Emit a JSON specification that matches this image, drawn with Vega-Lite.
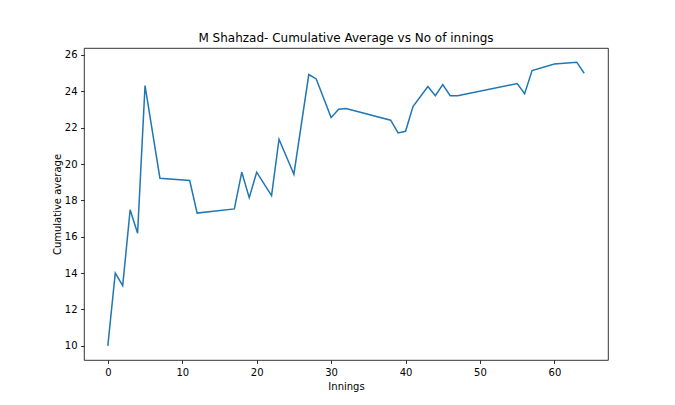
{
  "$schema": "https://vega.github.io/schema/vega-lite/v6.json",
  "autosize": "none",
  "width": 524,
  "height": 312,
  "padding": {"left": 84, "top": 48, "right": 67, "bottom": 45},
  "background": "white",
  "title": {"text": "M Shahzad- Cumulative Average vs No of innings", "fontSize": 12, "fontWeight": "normal", "font": "DejaVu Sans", "color": "black", "offset": 3},
  "data": {"values": [
    {"innings": 0, "avg": 10.0},
    {"innings": 1, "avg": 14.0},
    {"innings": 2, "avg": 13.31},
    {"innings": 3, "avg": 17.48},
    {"innings": 4, "avg": 16.19},
    {"innings": 5, "avg": 24.31},
    {"innings": 7, "avg": 19.22},
    {"innings": 11, "avg": 19.09},
    {"innings": 12, "avg": 17.3},
    {"innings": 17, "avg": 17.53},
    {"innings": 18, "avg": 19.55},
    {"innings": 19, "avg": 18.15},
    {"innings": 20, "avg": 19.55},
    {"innings": 22, "avg": 18.26},
    {"innings": 23, "avg": 21.36},
    {"innings": 25, "avg": 19.44},
    {"innings": 27, "avg": 24.92},
    {"innings": 28, "avg": 24.68},
    {"innings": 30, "avg": 22.55},
    {"innings": 31, "avg": 23.01},
    {"innings": 32, "avg": 23.05},
    {"innings": 38, "avg": 22.41},
    {"innings": 39, "avg": 21.71},
    {"innings": 40, "avg": 21.8},
    {"innings": 41, "avg": 23.16},
    {"innings": 43, "avg": 24.26},
    {"innings": 44, "avg": 23.76},
    {"innings": 45, "avg": 24.37},
    {"innings": 46, "avg": 23.76},
    {"innings": 47, "avg": 23.76},
    {"innings": 55, "avg": 24.42},
    {"innings": 56, "avg": 23.87},
    {"innings": 57, "avg": 25.14},
    {"innings": 60, "avg": 25.5},
    {"innings": 63, "avg": 25.6},
    {"innings": 64, "avg": 24.99}
  ]},
  "mark": {"type": "line", "color": "#1f77b4", "strokeWidth": 1.5},
  "encoding": {
    "x": {"field": "innings", "type": "quantitative", "title": "Innings",
      "scale": {"domain": [-3.2, 67.2], "nice": false, "zero": false},
      "axis": {"values": [0, 10, 20, 30, 40, 50, 60], "titlePadding": 4}},
    "y": {"field": "avg", "type": "quantitative", "title": "Cumulative average",
      "scale": {"domain": [9.22, 26.38], "nice": false, "zero": false},
      "axis": {"values": [10, 12, 14, 16, 18, 20, 22, 24, 26], "titlePadding": 2}}
  },
  "config": {
    "view": {"stroke": "black", "strokeWidth": 0.8},
    "axis": {
      "domain": false, "grid": false,
      "ticks": true, "tickColor": "black", "tickSize": 3.5, "tickWidth": 0.8,
      "labelFont": "DejaVu Sans", "labelFontSize": 10, "labelColor": "black", "labelPadding": 3.5,
      "titleFont": "DejaVu Sans", "titleFontSize": 10, "titleFontWeight": "normal", "titleColor": "black"
    }
  }
}
